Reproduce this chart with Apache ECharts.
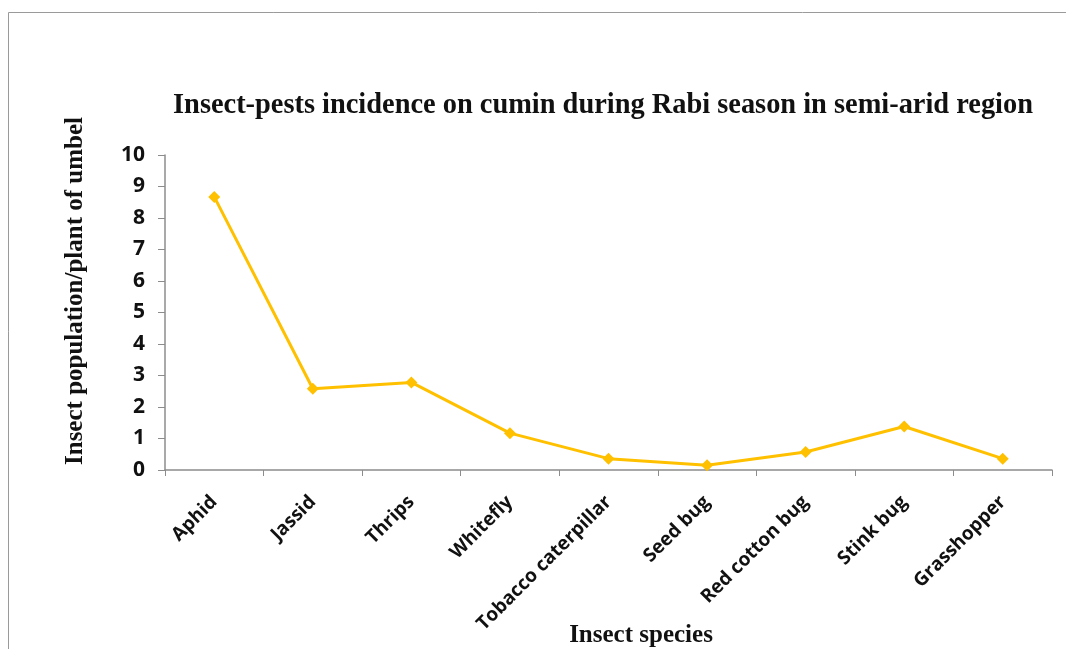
<!DOCTYPE html>
<html><head><meta charset="utf-8">
<script src="https://cdn.jsdelivr.net/npm/echarts@6/dist/echarts.min.js"></script>
<style>html,body{margin:0;padding:0;background:#fff}#c{width:1066px;height:649px}</style>
</head><body><div id="c"></div>
<script>
var categories = ['Aphid','Jassid','Thrips','Whitefly','Tobacco caterpillar','Seed bug','Red cotton bug','Stink bug','Grasshopper'];
var values = [8.67, 2.58, 2.78, 1.17, 0.36, 0.15, 0.57, 1.38, 0.36];
var yTicks = [0,1,2,3,4,5,6,7,8,9,10];
var titleText = 'Insect-pests incidence on cumin during Rabi season in semi-arid region';
var yName = 'Insect population/plant of umbel';
var xName = 'Insect species';

var chart = echarts.init(document.getElementById('c'));
chart.setOption({
  animation: false,
  backgroundColor: '#fff',
  title: {
    text: titleText, left: 598, top: 87, textAlign: 'center',
    textStyle: {fontFamily: 'Liberation Serif', fontWeight: 'bold', fontSize: 28.4, color: '#111'}
  },
  grid: {left: 165, right: 14, top: 155, bottom: 179, containLabel: false},
  xAxis: {
    type: 'category', data: categories, boundaryGap: true,
    axisLine: {lineStyle: {color: '#8c8c8c', width: 1.5}},
    axisTick: {show: true, length: 6, lineStyle: {color: '#8c8c8c'}},
    axisLabel: {rotate: 45, interval: 0, margin: 29, color: '#111',
      fontFamily: 'Open Sans', fontWeight: 'bold', fontSize: 19}
  },
  yAxis: {
    type: 'value', min: 0, max: 10, interval: 1,
    axisLine: {show: true, lineStyle: {color: '#8c8c8c', width: 1.5}},
    axisTick: {show: true, length: 7, lineStyle: {color: '#8c8c8c'}},
    splitLine: {show: false},
    axisLabel: {margin: 20, color: '#111', fontFamily: 'Open Sans', fontWeight: 'bold', fontSize: 21,
      formatter: function(v){ return yTicks.indexOf(v) >= 0 ? String(v) : ''; }}
  },
  series: [{
    type: 'line', data: values,
    lineStyle: {color: '#FFC000', width: 3},
    itemStyle: {color: '#FFC000'},
    symbol: 'diamond', symbolSize: 12
  }],
  graphic: [
    {type: 'rect', shape: {x: 8.5, y: 12.5, width: 1200, height: 1000}, style: {fill: 'none', stroke: '#9a9a9a', lineWidth: 1}, z: -1},
    {type: 'text', x: 76, y: 291, rotation: Math.PI/2,
      style: {text: yName, textAlign: 'center', textVerticalAlign: 'middle',
        font: 'bold 25px "Liberation Serif"', fill: '#111'}},
    {type: 'text', x: 641, y: 636,
      style: {text: xName, textAlign: 'center', textVerticalAlign: 'middle',
        font: 'bold 25px "Liberation Serif"', fill: '#111'}}
  ]
});
</script>
</body></html>
